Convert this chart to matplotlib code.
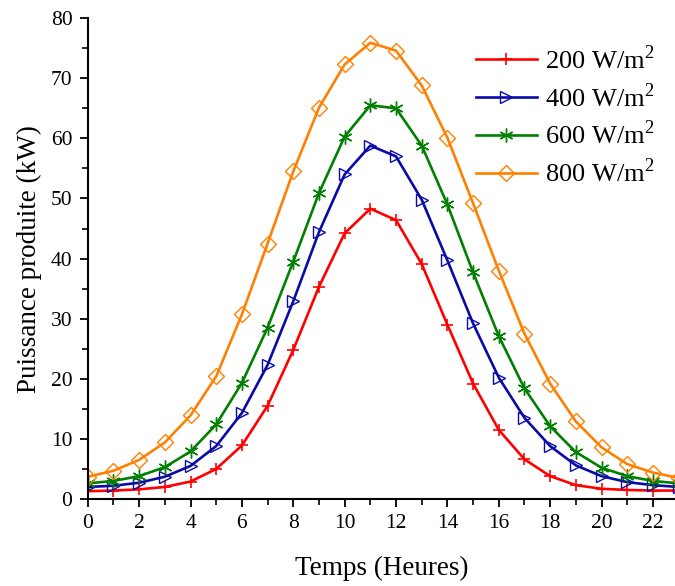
import numpy as np
import matplotlib
matplotlib.use('Agg')
import matplotlib.pyplot as plt
from matplotlib.ticker import MultipleLocator

plt.rcParams['font.family'] = ['Liberation Serif', 'DejaVu Serif']
plt.rcParams['mathtext.fontset'] = 'custom'
plt.rcParams['mathtext.rm'] = 'Liberation Serif'

# heures de la journée
heures = list(range(24))

# puissance produite (kW) pour chaque irradiance
p200 = [1.3, 1.4, 1.6, 2.0, 2.9, 5.0, 8.9, 15.5, 24.8, 35.3, 44.2, 48.3,
        46.4, 39.1, 29.0, 19.2, 11.5, 6.6, 3.8, 2.3, 1.7, 1.5, 1.4, 1.4]
p400 = [2.0, 2.2, 2.7, 3.7, 5.5, 8.8, 14.3, 22.3, 32.9, 44.4, 54.0, 58.8,
        57.0, 49.8, 39.7, 29.2, 20.2, 13.5, 8.8, 5.6, 3.8, 2.8, 2.3, 2.0]
p600 = [2.6, 3.0, 3.8, 5.3, 7.9, 12.4, 19.3, 28.5, 39.5, 50.9, 60.3, 65.5,
        65.0, 58.8, 49.0, 37.7, 27.1, 18.4, 12.1, 7.8, 5.2, 3.8, 3.0, 2.6]
p800 = [3.7, 4.7, 6.5, 9.4, 13.9, 20.4, 30.7, 42.5, 54.5, 65.1, 72.3, 75.9,
        74.6, 68.8, 60.1, 49.2, 38.0, 27.5, 19.2, 12.9, 8.6, 5.8, 4.4, 3.5]

fig = plt.figure(figsize=(6.75, 5.86), dpi=100)
ax = fig.add_axes([0.130, 0.1485, 0.870, 0.8205])

ax.plot(heures, p200, color='#ff0000', lw=1.9, marker='+', ms=9, mew=1.2,
        label='200 W/m$^2$')
ax.plot(heures, p400, color='#0a0aa8', lw=1.9, marker='>', ms=9, mew=1.0,
        mfc='none', label='400 W/m$^2$')
ax.plot(heures, p600, color='#008000', lw=1.9, marker=(6, 2, 0), ms=10, mew=1.0,
        label='600 W/m$^2$')
ax.plot(heures, p800, color='#ff8000', lw=1.9, marker='D', ms=8, mew=1.0,
        mfc='none', label='800 W/m$^2$')

ax.set_xlim(0, 22.86)
ax.set_ylim(0, 80)
ax.xaxis.set_major_locator(MultipleLocator(2))
ax.xaxis.set_minor_locator(MultipleLocator(1))
ax.yaxis.set_major_locator(MultipleLocator(10))
ax.yaxis.set_minor_locator(MultipleLocator(5))

ax.spines['top'].set_visible(False)
ax.spines['right'].set_visible(False)
ax.spines['left'].set_linewidth(1.5)
ax.spines['bottom'].set_linewidth(1.5)
ax.tick_params(which='major', direction='out', length=6, width=1.3,
               labelsize=15.5, pad=5)
ax.tick_params(which='minor', direction='out', length=4, width=1.2)

ax.set_xlabel('Temps (Heures)', fontsize=19.5, labelpad=16)
ax.set_ylabel('Puissance produite (kW)', fontsize=19.5, labelpad=6)

ax.legend(loc='upper right', frameon=False, fontsize=19, handlelength=2.3,
          handletextpad=0.3, labelspacing=0.35, borderpad=0, borderaxespad=0,
          bbox_to_anchor=(654 / 675, 1 - 45 / 586),
          bbox_transform=fig.transFigure)

fig.savefig('out.png', dpi=100)
